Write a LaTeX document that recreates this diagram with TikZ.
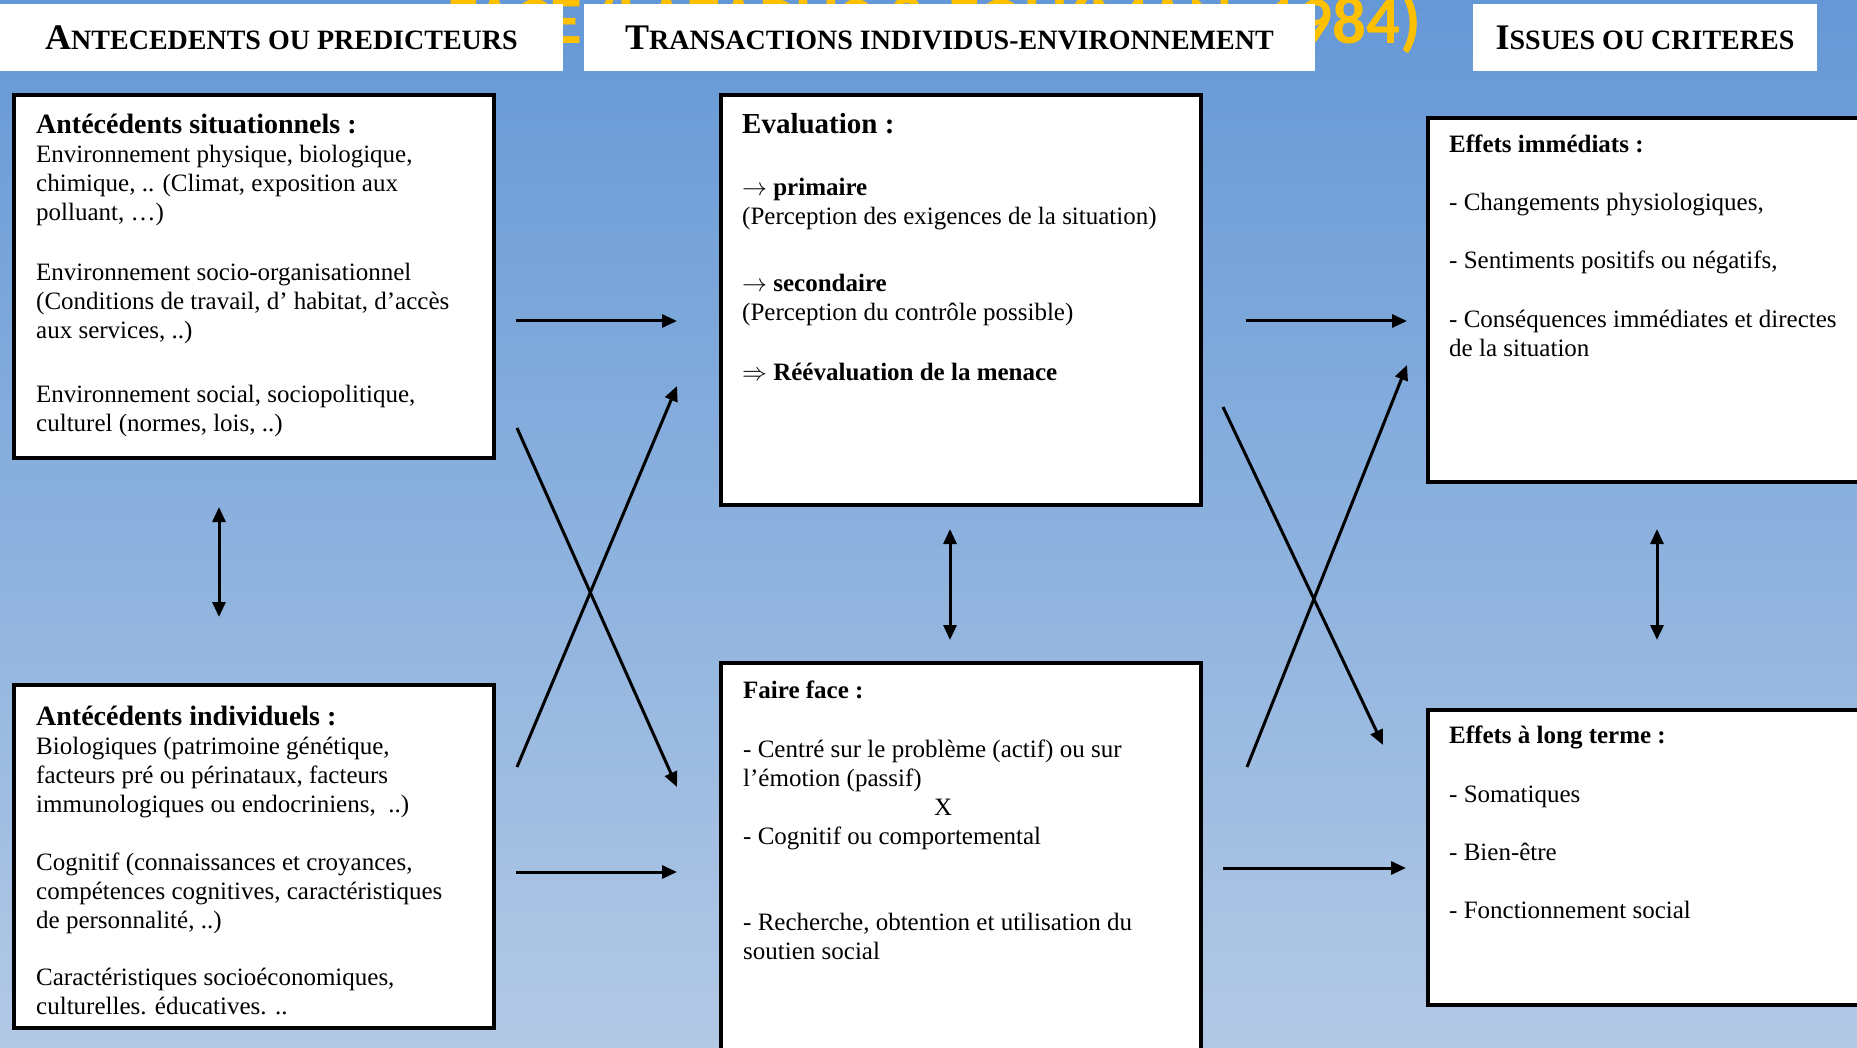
\documentclass[tikz,border=0pt]{standalone}
\usepackage{fontspec}
\setmainfont{Liberation Serif}
\newfontfamily\carlitofont{Carlito}
\usetikzlibrary{arrows.meta}
\definecolor{bgtop}{HTML}{6598D6}
\definecolor{bgbot}{HTML}{B2C9E5}
\definecolor{ttlyellow}{HTML}{FFC000}
\newcommand{\hdrsc}[2]{{\fontsize{36}{36}\selectfont #1}{\fontsize{28}{28}\selectfont #2}}
\begin{document}
\begin{tikzpicture}[x=1pt,y=-1pt,
  box/.style={draw=black, line width=3.5pt, fill=white, anchor=north west, inner sep=0pt, outer sep=0pt},
  hdr/.style={fill=white, anchor=north west, inner sep=0pt, outer sep=0pt, font=\bfseries, minimum height=67pt},
  txt/.style={anchor=north west, align=left, inner sep=0pt, font=\fontsize{25}{29}\selectfont},
  conn/.style={line width=3pt, -{Triangle[length=15pt,width=13pt]}},
  dconn/.style={line width=3pt, {Triangle[length=15pt,width=13pt]}-{Triangle[length=15pt,width=13pt]}}]
\useasboundingbox (0,0) rectangle (1857,1048);
\clip (0,0) rectangle (1857,1048);
\shade[top color=bgtop, bottom color=bgbot] (0,0) rectangle (1857,1048);

% title partly hidden behind the headers
\node[anchor=base west, inner sep=0pt, font=\carlitofont\bfseries\fontsize{67}{67}\selectfont, text=ttlyellow] (ttl) at (447,44) {FACE (LAZARUS \& FOLKMAN, 1984)};

% headers
\node[hdr, minimum width=563pt] (h1) at (0,4) {\hdrsc{A}{NTECEDENTS OU PREDICTEURS}};
\node[hdr, minimum width=731pt] (h2) at (584,4) {\hdrsc{T}{RANSACTIONS INDIVIDUS-ENVIRONNEMENT}};
\node[hdr, minimum width=344pt] (h3) at (1473,4) {\hdrsc{I}{SSUES OU CRITERES}};

% boxes
\node[box, minimum width=480pt, minimum height=363pt] (sit) at (14,95) {};
\node[box, minimum width=480pt, minimum height=343pt] (ind) at (14,685) {};
\node[box, minimum width=480pt, minimum height=410pt] (eval) at (721,95) {};
\node[box, minimum width=480pt, minimum height=420pt] (cop) at (721,663) {};
\node[box, minimum width=460pt, minimum height=364pt] (imm) at (1428,118) {};
\node[box, minimum width=460pt, minimum height=295pt] (lt) at (1428,710) {};

% texts
\node[txt] (sitT) at (36,109) {\rule{0pt}{24pt}{\fontsize{28}{29}\selectfont\bfseries Antécédents situationnels :}\\
Environnement physique, biologique,\\
chimique, .. (Climat, exposition aux\\
polluant, …)\\[31pt]
Environnement socio-organisationnel\\
(Conditions de travail, d’ habitat, d’accès\\
aux services, ..)\\[35pt]
Environnement social, sociopolitique,\\
culturel (normes, lois, ..)};

\node[txt] (indT) at (36,701) {\rule{0pt}{24pt}{\fontsize{28}{29}\selectfont\bfseries Antécédents individuels :}\\
Biologiques (patrimoine génétique,\\
facteurs pré ou périnataux, facteurs\\
immunologiques ou endocriniens,~ ..)\\[29pt]
Cognitif (connaissances et croyances,\\
compétences cognitives, caractéristiques\\
de personnalité, ..)\\[28pt]
Caractéristiques socioéconomiques,\\
culturelles. éducatives. ..};

\node[txt] (evalT) at (742,109) {\rule{0pt}{24pt}{\fontsize{29}{29}\selectfont\bfseries Evaluation :}\\[33pt]
{\bfseries $\rightarrow$ primaire}\\
(Perception des exigences de la situation)\\[38pt]
{\bfseries $\rightarrow$ secondaire}\\
(Perception du contrôle possible)\\[31pt]
{\bfseries $\Rightarrow$\ Réévaluation de la menace}};

\node[txt] (copT) at (743,674) {\rule{0pt}{24pt}{\bfseries Faire face :}\\[30pt]
- Centré sur le problème (actif) ou sur\\
l’émotion (passif)\\
\hspace*{191pt}X\\
- Cognitif ou comportemental\\[57pt]
- Recherche, obtention et utilisation du\\
soutien social};

\node[txt] (immT) at (1449,128) {\rule{0pt}{24pt}{\bfseries Effets immédiats :}\\[29pt]
- Changements physiologiques,\\[29pt]
- Sentiments positifs ou négatifs,\\[30pt]
- Conséquences immédiates et directes\\
de la situation};

\node[txt] (ltT) at (1449,719) {\rule{0pt}{24pt}{\bfseries Effets à long terme :}\\[30pt]
- Somatiques\\[29pt]
- Bien-être\\[29pt]
- Fonctionnement social};

% connector end points
\coordinate (a1s) at (516,321); \coordinate (a1e) at (677,321);
\coordinate (a2s) at (517,767); \coordinate (a2e) at (677,386);
\coordinate (a3s) at (517,428); \coordinate (a3e) at (677,787);
\coordinate (a4s) at (516,872); \coordinate (a4e) at (677,872);
\coordinate (b1s) at (1246,321); \coordinate (b1e) at (1407,321);
\coordinate (b2s) at (1247,767); \coordinate (b2e) at (1407,365);
\coordinate (b3s) at (1223,407); \coordinate (b3e) at (1383,745);
\coordinate (b4s) at (1223,868); \coordinate (b4e) at (1406,868);
\coordinate (v1s) at (219,507); \coordinate (v1e) at (219,617);
\coordinate (v2s) at (950,529); \coordinate (v2e) at (950,640);
\coordinate (v3s) at (1657,529); \coordinate (v3e) at (1657,640);

\draw[conn] (a1s) -- (a1e);
\draw[conn] (a2s) -- (a2e);
\draw[conn] (a3s) -- (a3e);
\draw[conn] (a4s) -- (a4e);
\draw[conn] (b1s) -- (b1e);
\draw[conn] (b2s) -- (b2e);
\draw[conn] (b3s) -- (b3e);
\draw[conn] (b4s) -- (b4e);
\draw[dconn] (v1s) -- (v1e);
\draw[dconn] (v2s) -- (v2e);
\draw[dconn] (v3s) -- (v3e);
\end{tikzpicture}
\end{document}
